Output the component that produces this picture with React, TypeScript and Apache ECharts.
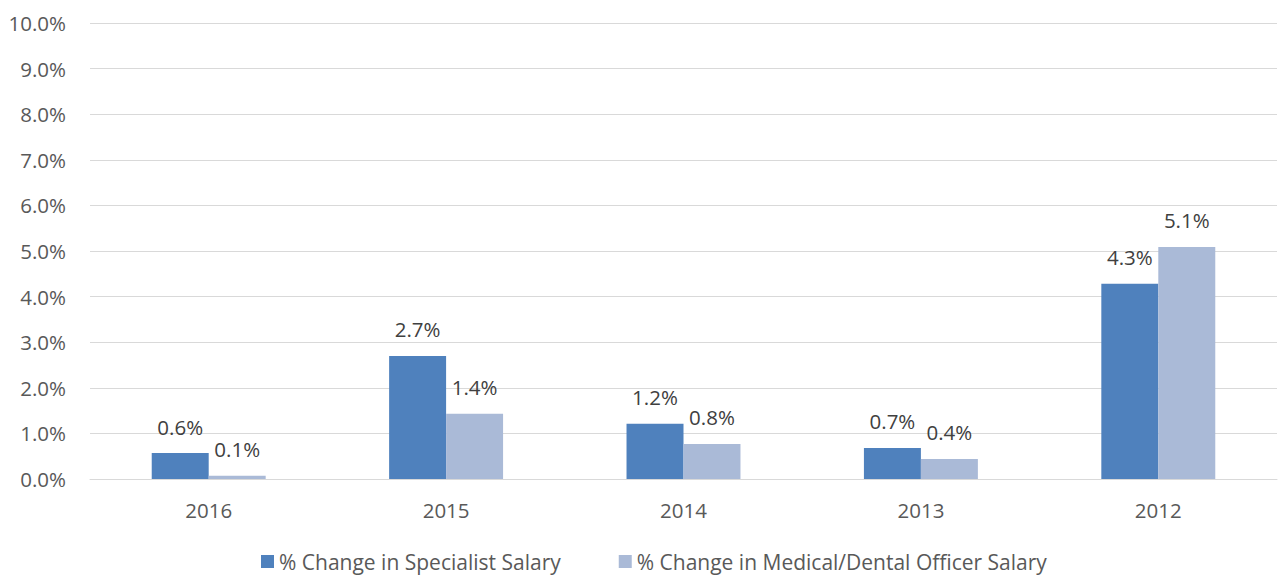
import React, { useEffect, useRef } from "react";
import * as echarts from "echarts";

const categories = ["2016", "2015", "2014", "2013", "2012"];
const specialist = [0.57, 2.7, 1.21, 0.68, 4.28];
const medical = [0.07, 1.43, 0.77, 0.44, 5.09];
const seriesNames = ["% Change in Specialist Salary", "% Change in Medical/Dental Officer Salary"];

export default function App() {
  const ref = useRef<HTMLDivElement>(null);
  useEffect(() => {
    const chart = echarts.init(ref.current!, null, { renderer: "svg" });
    const font = "'Open Sans', sans-serif";
    const fs = 20.5;
    const label = {
      show: true,
      position: "top",
      distance: 16,
      color: "#404040",
      fontSize: fs,
      fontFamily: font,
      formatter: (p: any) => p.value.toFixed(1) + "%",
    };
    chart.setOption({
      animation: false,
      grid: { left: 90, right: 2, top: 23, bottom: 100, containLabel: false },
      legend: {
        bottom: 2,
        left: 256,
        itemWidth: 13,
        itemHeight: 13,
        itemGap: 58,
        icon: "rect",
        textStyle: { color: "#595959", fontSize: 21, fontFamily: font },
      },
      xAxis: {
        type: "category",
        data: categories,
        axisLine: { lineStyle: { color: "#d9d9d9", width: 1 } },
        axisTick: { show: false },
        axisLabel: { color: "#595959", fontSize: fs, fontFamily: font, margin: 20 },
      },
      yAxis: {
        type: "value",
        min: 0,
        max: 10,
        interval: 1,
        axisLine: { show: false },
        axisTick: { show: false },
        splitLine: { lineStyle: { color: "#d9d9d9", width: 1 } },
        axisLabel: {
          color: "#595959",
          fontSize: fs,
          fontFamily: font,
          margin: 24,
          formatter: (v: number) => v.toFixed(1) + "%",
        },
      },
      series: [
        {
          name: seriesNames[0],
          type: "bar",
          data: specialist,
          barWidth: "24%",
          barGap: "0%",
          itemStyle: { color: "#4F81BD" },
          label,
        },
        {
          name: seriesNames[1],
          type: "bar",
          data: medical,
          barWidth: "24%",
          barGap: "0%",
          itemStyle: { color: "#AABAD7" },
          label,
        },
      ],
    });
    return () => chart.dispose();
  }, []);
  return <div ref={ref} style={{ width: 1279, height: 579, position: "absolute", left: 0, top: 0 }} />;
}
